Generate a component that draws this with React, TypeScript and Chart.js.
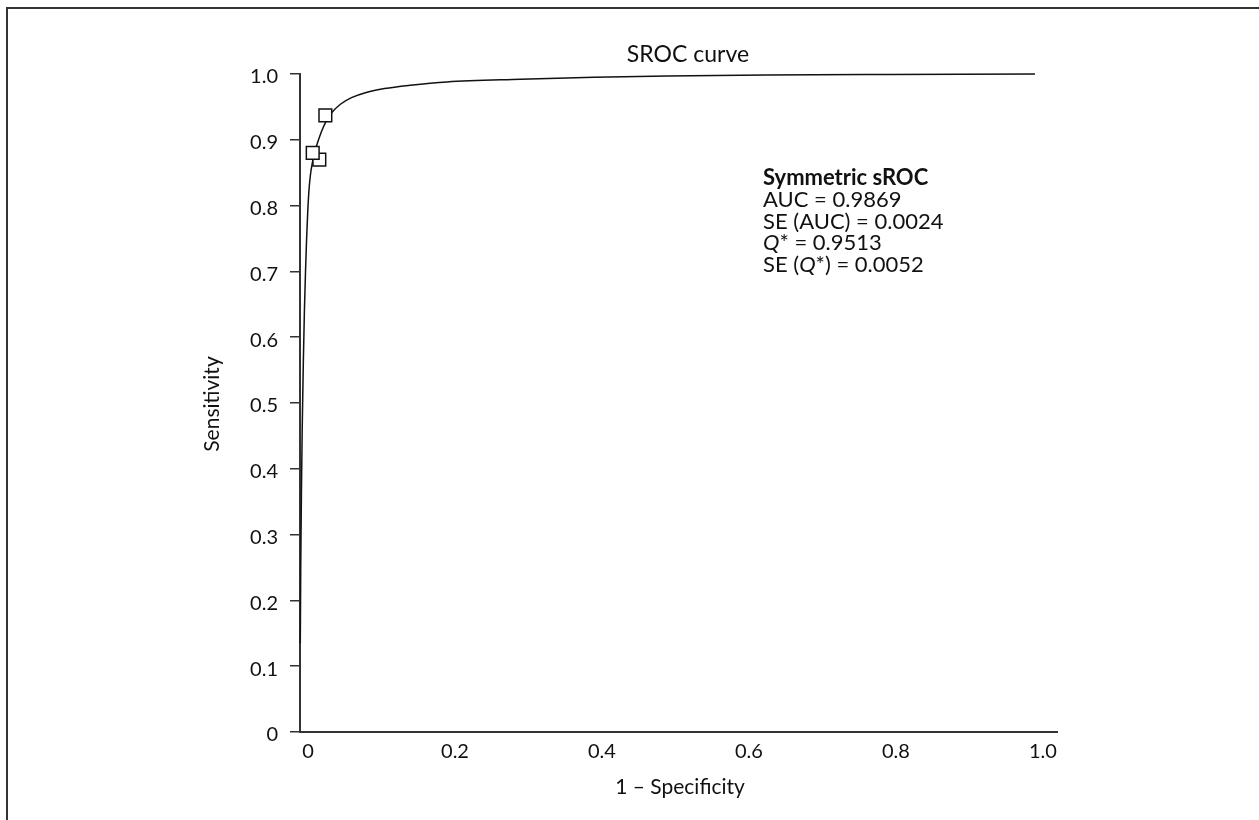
import { useEffect, useRef } from "react";
import { Chart, registerables } from "chart.js";

Chart.register(...registerables);

// Fitted symmetric summary ROC curve (1 - specificity, sensitivity)
const CURVE_FPR = [
  0.0004, 0.001, 0.002, 0.003, 0.0045, 0.006, 0.0075, 0.009, 0.0105, 0.012,
  0.014, 0.017, 0.02, 0.024, 0.029, 0.035, 0.043, 0.055, 0.07, 0.09, 0.115,
  0.15, 0.2, 0.3, 0.4, 0.5, 0.6, 0.7, 0.8, 0.9, 1.0,
];
const CURVE_TPR = [
  0.135, 0.25, 0.37, 0.46, 0.56, 0.64, 0.70, 0.75, 0.79, 0.82,
  0.845, 0.866, 0.882, 0.896, 0.912, 0.927, 0.941, 0.954, 0.964, 0.972, 0.978,
  0.983, 0.988, 0.992, 0.995, 0.997, 0.998, 0.999, 0.9994, 0.9997, 1.0,
];

// Individual studies
const STUDY_FPR = [0.0263, 0.0173, 0.0345];
const STUDY_TPR = [0.870, 0.880, 0.937];

const X_TICKS = [0, 0.2, 0.4, 0.6, 0.8, 1.0];
const Y_TICKS = [0, 0.1, 0.2, 0.3, 0.4, 0.5, 0.6, 0.7, 0.8, 0.9, 1.0];

const CHART_TITLE = "SROC curve";
const X_TITLE = "1 – Specificity";
const Y_TITLE = "Sensitivity";
const SUMMARY_HEADING = "Symmetric sROC";
// each line is a list of [text, italic] runs
const SUMMARY_LINES: [string, boolean][][] = [
  [["AUC = 0.9869", false]],
  [["SE (AUC) = 0.0024", false]],
  [["Q", true], ["* = 0.9513", false]],
  [["SE (", false], ["Q", true], ["*) = 0.0052", false]],
];

const FONT = "Lato, 'Open Sans', sans-serif";
const INK = "#111";
const AXIS = "#333";

const fmtTick = (v: number | string) => {
  const n = Number(v);
  return n === 0 ? "0" : n.toFixed(1);
};

const textPlugin = {
  id: "srocText",
  afterDraw(chart: any) {
    const { ctx, chartArea: a, scales } = chart;
    const xs = scales.x;
    const ys = scales.y;
    ctx.save();
    ctx.fillStyle = INK;
    ctx.textBaseline = "middle";

    // chart title
    ctx.font = `23px ${FONT}`;
    ctx.textAlign = "center";
    ctx.fillText(CHART_TITLE, a.left + 388, 55);

    // axis titles
    ctx.font = `21px ${FONT}`;
    ctx.fillText(X_TITLE, a.left + 380, 787);
    ctx.save();
    ctx.translate(212, (a.top + a.bottom) / 2 + 1);
    ctx.rotate(-Math.PI / 2);
    ctx.fillText(Y_TITLE, 0, 0);
    ctx.restore();

    // summary statistics block
    ctx.textAlign = "left";
    const x0 = xs.getPixelForValue(0.63);
    let y = ys.getPixelForValue(0.842);
    const step = 21.8;
    ctx.font = `bold 22px ${FONT}`;
    ctx.fillText(SUMMARY_HEADING, x0, y);
    for (const line of SUMMARY_LINES) {
      y += step;
      let x = x0;
      for (const [t, it] of line) {
        ctx.font = `${it ? "italic " : ""}22px ${FONT}`;
        ctx.fillText(t, x, y);
        x += ctx.measureText(t).width;
      }
    }
    ctx.restore();
  },
};

export default function App() {
  const ref = useRef<HTMLCanvasElement | null>(null);

  useEffect(() => {
    if (!ref.current) return;
    const curve = CURVE_FPR.map((x, i) => ({ x, y: CURVE_TPR[i] }));
    const studies = STUDY_FPR.map((x, i) => ({ x, y: STUDY_TPR[i] }));

    const chart = new Chart(ref.current, {
      type: "scatter",
      data: {
        datasets: [
          {
            label: "Studies",
            data: studies,
            pointStyle: "rect",
            pointRadius: 9,
            pointHoverRadius: 9,
            pointBorderWidth: 1.5,
            pointBorderColor: INK,
            pointBackgroundColor: "#fff",
            showLine: false,
            clip: false,
          },
          {
            label: "SROC",
            data: curve,
            showLine: true,
            borderColor: INK,
            borderWidth: 1.5,
            pointRadius: 0,
            cubicInterpolationMode: "monotone",
            fill: false,
            clip: false,
          },
        ],
      },
      options: {
        responsive: false,
        animation: false,
        devicePixelRatio: 1,
        layout: { padding: { top: 74, right: 202, bottom: 0, left: 0 } },
        plugins: {
          legend: { display: false },
          title: { display: false },
          tooltip: { enabled: false },
        },
        scales: {
          x: {
            type: "linear",
            min: 0,
            max: 1.03,
            afterBuildTicks: (s: any) => {
              s.ticks = X_TICKS.map((value) => ({ value }));
            },
            afterFit: (s: any) => {
              s.height = 88;
            },
            grid: { display: false, drawTicks: false },
            border: { display: true, color: AXIS, width: 2 },
            ticks: {
              callback: fmtTick,
              color: INK,
              font: { family: FONT, size: 20 },
              padding: 8,
              labelOffset: 8,
              maxRotation: 0,
              autoSkip: false,
            },
          },
          y: {
            type: "linear",
            min: 0,
            max: 1,
            afterBuildTicks: (s: any) => {
              s.ticks = Y_TICKS.map((value) => ({ value }));
            },
            afterFit: (s: any) => {
              s.width = 300;
            },
            grid: {
              drawOnChartArea: false,
              drawTicks: true,
              tickLength: 10,
              color: AXIS,
              lineWidth: 1.5,
            },
            border: { display: true, color: AXIS, width: 2 },
            ticks: {
              callback: fmtTick,
              color: INK,
              font: { family: FONT, size: 20 },
              padding: 12,
              labelOffset: 3,
              autoSkip: false,
            },
          },
        },
      },
      plugins: [textPlugin],
    });
    return () => chart.destroy();
  }, []);

  return (
    <div
      style={{
        position: "fixed",
        left: 0,
        top: 0,
        width: 1259,
        height: 820,
        background: "#fff",
        overflow: "hidden",
      }}
    >
      <canvas ref={ref} width={1259} height={820} style={{ display: "block" }} />
      <div
        style={{
          position: "absolute",
          left: 6,
          top: 7,
          right: -10,
          bottom: -10,
          borderTop: `2px solid ${AXIS}`,
          borderLeft: `2px solid ${AXIS}`,
          pointerEvents: "none",
        }}
      />
    </div>
  );
}
